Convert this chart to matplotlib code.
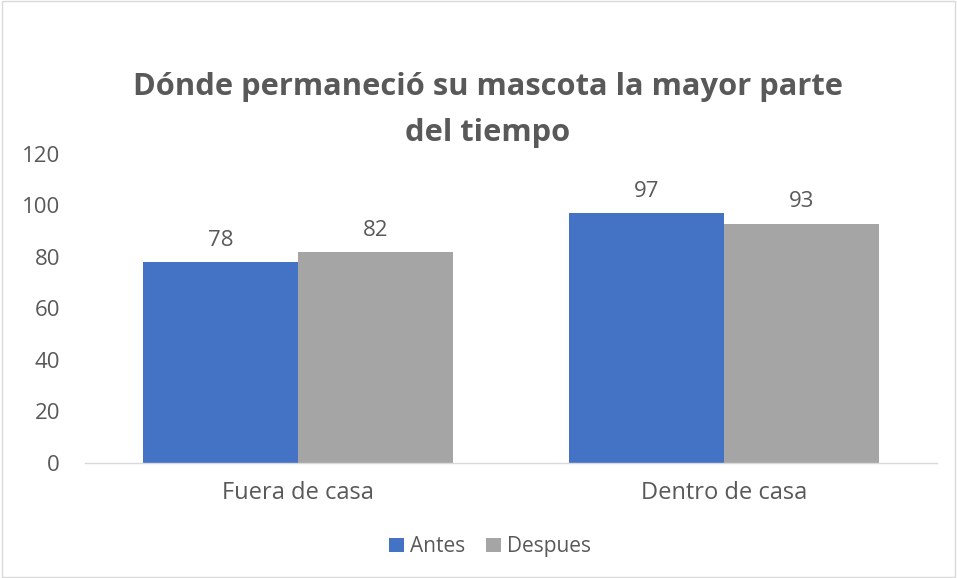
import numpy as np
import matplotlib.pyplot as plt
from matplotlib.patches import Rectangle

plt.rcParams['font.family'] = ['Open Sans', 'DejaVu Sans']

categories = ["Fuera de casa", "Dentro de casa"]
antes = [78, 97]
despues = [82, 93]
series_names = ["Antes", "Despues"]

TEXT = "#595959"
colors = ["#4472C4", "#A5A5A5"]

fig = plt.figure(figsize=(9.57, 5.78), dpi=100)
ax = fig.add_axes([0.0888, 0.199, 0.8902, 0.5346])

x = np.arange(len(categories))
w = 0.364
b1 = ax.bar(x - w / 2, antes, w, color=colors[0], label=series_names[0])
b2 = ax.bar(x + w / 2, despues, w, color=colors[1], label=series_names[1])
for bars in (b1, b2):
    for r in bars:
        ax.annotate(f"{r.get_height():g}", (r.get_x() + r.get_width() / 2, r.get_height()),
                    xytext=(0, 8), textcoords="offset points", ha="center", va="bottom",
                    fontsize=16, color=TEXT)

ax.set_xlim(-0.5, 1.5)
ax.set_ylim(0, 120)
ax.set_yticks(range(0, 121, 20))
ax.set_xticks(x)
ax.set_xticklabels(categories)
ax.tick_params(axis="both", length=0, colors=TEXT)
ax.tick_params(axis="y", labelsize=16, pad=18)
ax.tick_params(axis="x", labelsize=17, pad=13)
for s in ["top", "right", "left"]:
    ax.spines[s].set_visible(False)
ax.spines["bottom"].set_color("#D9D9D9")
ax.spines["bottom"].set_linewidth(1)

fig.text(0.51, 0.81, "Dónde permaneció su mascota la mayor parte\ndel tiempo",
         ha="center", va="center", fontsize=22.2, fontweight="bold", color=TEXT,
         linespacing=1.68)

fig.legend(loc="center", bbox_to_anchor=(0.512, 0.054), ncol=2, frameon=False,
           fontsize=15, handlelength=0.7, handleheight=0.7, handletextpad=0.3,
           columnspacing=1.0, labelcolor=TEXT)

fig.patches.append(Rectangle((0.002, 0.002), 0.996, 0.996, transform=fig.transFigure,
                             fill=False, edgecolor="#D9D9D9", linewidth=1))

fig.savefig("out.png", dpi=100)
